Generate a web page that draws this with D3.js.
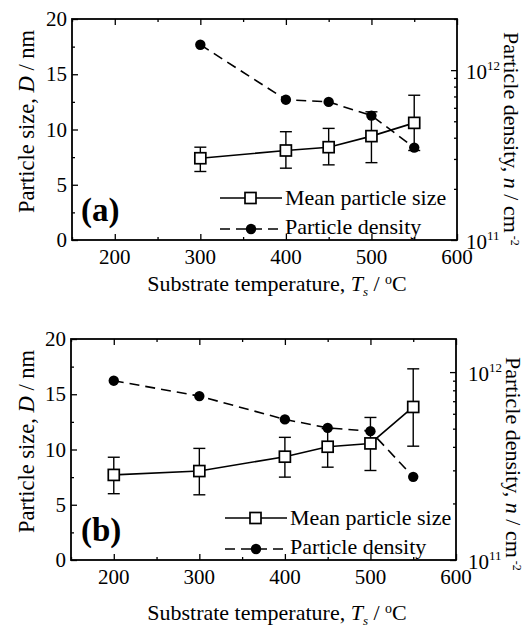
<!DOCTYPE html>
<html>
<head>
<meta charset="utf-8">
<script src="https://cdn.jsdelivr.net/npm/d3@7"></script>
<style>
  body { margin: 0; background: #fff; }
  svg { display: block; }
  text { font-family: "Liberation Serif", "Times New Roman", serif; fill: #000; }
</style>
</head>
<body>
<div id="chart"></div>
<script>
// panel (a)
const tempsA = [300, 400, 450, 500, 550];
const sizeA = [7.4, 8.1, 8.4, 9.4, 10.6];
const sizeHiA = [8.4, 9.8, 10.1, 11.6, 13.1];
const sizeLoA = [6.2, 6.5, 6.8, 7.0, 8.1];
const densityA = [1.41e12, 6.7e11, 6.5e11, 5.4e11, 3.5e11];

// panel (b)
const tempsB = [200, 300, 400, 450, 500, 550];
const sizeB = [7.7, 8.05, 9.35, 10.25, 10.55, 13.85];
const sizeHiB = [9.3, 10.1, 11.1, 11.9, 12.9, 17.3];
const sizeLoB = [6.0, 5.9, 7.5, 8.4, 8.1, 10.3];
const densityB = [9.0e11, 7.45e11, 5.6e11, 5.05e11, 4.85e11, 2.77e11];

const xTicks = [200, 300, 400, 500, 600];
const xMinor = [150, 250, 350, 450, 550];
const yTicks = [0, 5, 10, 15, 20];
const yMinor = [2.5, 7.5, 12.5, 17.5];
const legendLabels = ["Mean particle size", "Particle density"];

const WIDTH = 525;
const HEIGHT = 631;
const FONT = 21;

const svg = d3.select("#chart").append("svg")
  .attr("width", WIDTH)
  .attr("height", HEIGHT);

function drawPanel(cfg) {
  const { left, right, top, bottom } = cfg;
  const g = svg.append("g");

  const x = d3.scaleLinear().domain([150, 600]).range([left, right]);
  const y = d3.scaleLinear().domain([0, 20]).range([bottom, top]);
  const yR = d3.scaleLog().domain([1e11, cfg.logTop]).range([bottom, top]);

  const rows = cfg.temps.map((t, i) => ({
    t, size: cfg.size[i], hi: cfg.hi[i], lo: cfg.lo[i], n: cfg.density[i]
  }));

  // ticks (all inward)
  const tickAxis = (axis, tr, vals, len) => {
    g.append("g").attr("transform", tr)
      .call(axis.tickValues(vals).tickSize(-len).tickFormat(""))
      .call(a => a.select(".domain").remove())
      .call(a => a.selectAll("line").attr("stroke", "#000").attr("stroke-width", 1.3));
  };
  tickAxis(d3.axisBottom(x), `translate(0,${bottom})`, xTicks, 6);
  tickAxis(d3.axisBottom(x), `translate(0,${bottom})`, xMinor, 3);
  tickAxis(d3.axisTop(x), `translate(0,${top})`, xTicks, 6);
  tickAxis(d3.axisTop(x), `translate(0,${top})`, xMinor, 3);
  tickAxis(d3.axisLeft(y), `translate(${left},0)`, yTicks, 6);
  tickAxis(d3.axisLeft(y), `translate(${left},0)`, yMinor, 3);
  const minorLog = [2e11, 3e11, 4e11, 5e11, 6e11, 7e11, 8e11, 9e11, 2e12]
    .filter(v => v <= cfg.logTop);
  tickAxis(d3.axisRight(yR), `translate(${right},0)`, [1e11, 1e12], 6);
  tickAxis(d3.axisRight(yR), `translate(${right},0)`, minorLog, 3);

  // frame
  g.append("rect")
    .attr("x", left).attr("y", top)
    .attr("width", right - left).attr("height", bottom - top)
    .attr("fill", "none").attr("stroke", "#000").attr("stroke-width", 1.8);

  // tick labels
  g.selectAll(".xl").data(xTicks).enter().append("text")
    .attr("x", d => x(d)).attr("y", bottom + 24)
    .attr("text-anchor", "middle").attr("font-size", FONT)
    .text(d => d);
  g.selectAll(".yl").data(yTicks).enter().append("text")
    .attr("x", left - 5).attr("y", d => y(d) + 7)
    .attr("text-anchor", "end").attr("font-size", FONT)
    .text(d => d);
  [1e11, 1e12].forEach(v => {
    const t = g.append("text")
      .attr("x", right + cfg.logLabelDx).attr("y", yR(v) + 9)
      .attr("font-size", FONT);
    t.append("tspan").text("10");
    t.append("tspan").attr("font-size", 13).attr("dy", -9)
      .text(Math.round(Math.log10(v)));
  });

  // axis titles
  const yl = g.append("text")
    .attr("transform", `translate(34,${(top + bottom) / 2 - 8}) rotate(-90)`)
    .attr("text-anchor", "middle").attr("font-size", 22.5);
  yl.append("tspan").text("Particle size, ");
  yl.append("tspan").attr("font-style", "italic").text("D");
  yl.append("tspan").text(" / nm");

  const xl = g.append("text")
    .attr("x", 277).attr("y", cfg.xTitleY)
    .attr("text-anchor", "middle").attr("font-size", 22);
  xl.append("tspan").text("Substrate temperature, ");
  xl.append("tspan").attr("font-style", "italic").text("T");
  xl.append("tspan").attr("font-style", "italic").attr("font-size", 13).attr("dy", 5).text("s");
  xl.append("tspan").attr("dy", -5).text(" / ");
  xl.append("tspan").attr("font-size", 14).attr("dy", -7).text("o");
  xl.append("tspan").attr("dy", 7).text("C");

  const rl = g.append("text")
    .attr("transform", `translate(${cfg.rTitleX},${cfg.rTitleY}) rotate(90)`)
    .attr("font-size", 22);
  rl.append("tspan").text("Particle density, ");
  rl.append("tspan").attr("font-style", "italic").text("n");
  rl.append("tspan").text(" / cm");
  rl.append("tspan").attr("font-size", 12).attr("dy", -7).attr("dx", 3).text("-2");

  // series lines
  g.append("path").datum(rows)
    .attr("fill", "none").attr("stroke", "#000").attr("stroke-width", 1.6)
    .attr("stroke-dasharray", "10,6")
    .attr("d", d3.line().x(d => x(d.t)).y(d => yR(d.n)));
  g.append("path").datum(rows)
    .attr("fill", "none").attr("stroke", "#000").attr("stroke-width", 1.6)
    .attr("d", d3.line().x(d => x(d.t)).y(d => y(d.size)));

  // error bars
  const eb = g.append("g").attr("stroke", "#000").attr("stroke-width", 1.4);
  rows.forEach(d => {
    eb.append("line").attr("x1", x(d.t)).attr("x2", x(d.t))
      .attr("y1", y(d.lo)).attr("y2", y(d.hi));
    [d.lo, d.hi].forEach(v => {
      eb.append("line").attr("x1", x(d.t) - 6).attr("x2", x(d.t) + 6)
        .attr("y1", y(v)).attr("y2", y(v));
    });
  });

  // markers
  g.selectAll(".dot").data(rows).enter().append("circle")
    .attr("cx", d => x(d.t)).attr("cy", d => yR(d.n)).attr("r", 5.2)
    .attr("fill", "#000");
  g.selectAll(".sq").data(rows).enter().append("rect")
    .attr("x", d => x(d.t) - 5.5).attr("y", d => y(d.size) - 5.5)
    .attr("width", 11).attr("height", 11)
    .attr("fill", "#fff").attr("stroke", "#000").attr("stroke-width", 1.7);

  // panel tag
  g.append("text").attr("x", 81).attr("y", bottom - 19)
    .attr("font-size", 33).attr("font-weight", "bold").text(cfg.tag);

  // legend
  const lx = cfg.legendX;
  const ly1 = bottom - 42, ly2 = bottom - 11;
  g.append("line").attr("x1", lx).attr("x2", lx + 62).attr("y1", ly1).attr("y2", ly1)
    .attr("stroke", "#000").attr("stroke-width", 1.6);
  g.append("rect").attr("x", lx + 25).attr("y", ly1 - 5.5).attr("width", 11).attr("height", 11)
    .attr("fill", "#fff").attr("stroke", "#000").attr("stroke-width", 1.7);
  g.append("line").attr("x1", lx).attr("x2", lx + 62).attr("y1", ly2).attr("y2", ly2)
    .attr("stroke", "#000").attr("stroke-width", 1.6).attr("stroke-dasharray", "10,6");
  g.append("circle").attr("cx", lx + 31).attr("cy", ly2).attr("r", 5.2).attr("fill", "#000");
  g.append("text").attr("x", lx + 65).attr("y", ly1 + 7).attr("font-size", 22).text(legendLabels[0]);
  g.append("text").attr("x", lx + 65).attr("y", ly2 + 5).attr("font-size", 22).text(legendLabels[1]);
}

drawPanel({
  left: 72, right: 457, top: 19, bottom: 240, logTop: 2e12,
  temps: tempsA, size: sizeA, hi: sizeHiA, lo: sizeLoA, density: densityA,
  tag: "(a)", legendX: 220, xTitleY: 291, rTitleX: 504, rTitleY: 32, logLabelDx: 9
});
drawPanel({
  left: 71, right: 456, top: 339, bottom: 560, logTop: 1.5e12,
  temps: tempsB, size: sizeB, hi: sizeHiB, lo: sizeLoB, density: densityB,
  tag: "(b)", legendX: 225, xTitleY: 620, rTitleX: 506, rTitleY: 357, logLabelDx: 12
});
</script>
</body>
</html>
